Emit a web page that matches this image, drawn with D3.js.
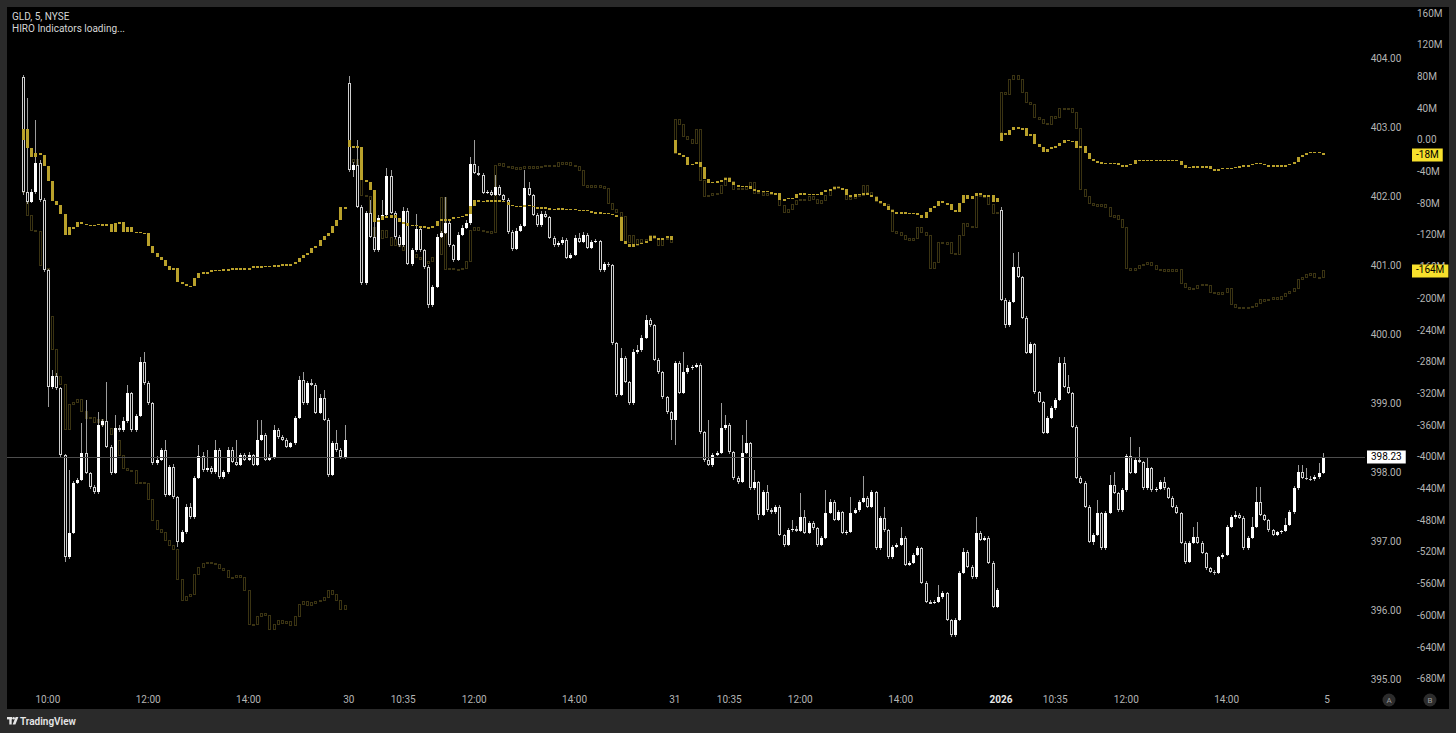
<!DOCTYPE html>
<html>
<head>
<meta charset="utf-8">
<script src="https://cdn.jsdelivr.net/npm/d3@7"></script>
<style>
  html, body { margin: 0; padding: 0; background: #2a2a2a; }
  svg { display: block; font-family: Roboto, "Liberation Sans", sans-serif; }
</style>
</head>
<body>
<script>
// GLD 5-minute candles, four sessions of 78 bars (09:30 - 15:55)
var sessionOpen = [403.74, 403.65, 398.77, 401.81];

var close1 = [402.07,401.93,402.07,402.49,401.96,400.94,399.25,399.41,399.23,398.26,
  396.78,397.13,397.86,397.90,398.29,398.00,397.80,397.72,398.70,398.75,
  398.38,398.00,398.65,398.62,398.75,399.16,398.62,398.83,399.61,399.30,
  399.01,398.14,398.19,398.33,397.68,398.09,397.65,397.00,397.14,397.51,
  397.36,397.93,398.25,398.04,398.07,398.01,398.33,397.94,398.01,398.33,
  398.16,398.12,398.26,398.19,398.26,398.12,398.48,398.55,398.19,398.22,
  398.62,398.52,398.48,398.38,398.43,398.80,399.35,399.01,399.30,399.28,
  398.87,399.09,398.77,397.97,398.43,398.33,398.23,398.48];
var close2 = [402.39,402.46,401.86,400.75,401.77,401.42,401.23,401.70,401.74,402.30,
  401.77,401.42,401.30,401.80,401.03,401.23,401.54,401.23,400.99,400.43,
  400.70,401.42,401.48,401.62,401.30,401.09,401.45,401.55,401.62,402.48,
  402.35,402.32,402.06,402.07,402.03,402.14,402.03,401.96,401.49,401.25,
  401.51,401.58,402.13,402.03,401.74,401.59,401.75,401.71,401.41,401.30,
  401.33,401.38,401.12,401.16,401.41,401.35,401.45,401.26,401.35,401.36,
  400.94,401.03,401.01,399.88,399.13,399.67,399.32,399.01,399.75,399.78,
  399.96,400.22,400.14,399.64,399.46,399.10,398.88,398.77];
var close3 = [399.59,399.16,399.46,399.52,399.54,399.57,398.59,398.19,398.12,398.26,
  398.29,398.65,398.70,398.30,397.93,397.87,398.29,398.43,397.78,397.87,
  397.39,397.72,397.46,397.43,397.51,397.10,396.96,397.17,397.19,397.16,
  397.36,397.13,397.28,397.20,396.96,397.06,397.42,397.58,397.32,397.43,
  397.13,397.15,397.42,397.46,397.58,397.64,397.51,397.72,396.91,397.35,
  397.17,396.78,396.93,396.96,397.06,396.67,396.70,396.81,396.91,396.41,
  396.13,396.12,396.13,396.20,396.26,395.87,395.65,395.87,396.55,396.86,
  396.64,396.49,397.13,397.03,397.06,396.70,396.06,396.30];
var close4 = [400.51,400.14,400.48,400.99,400.84,400.25,399.74,399.87,399.17,399.03,
  398.58,398.80,398.94,399.06,399.59,399.25,399.16,398.67,397.93,397.86,
  397.51,397.00,397.10,397.42,396.91,397.42,397.83,397.71,397.46,397.75,
  398.25,398.00,398.19,398.16,397.78,398.07,397.75,397.77,397.87,397.78,
  397.64,397.51,397.42,396.99,396.71,396.99,397.07,396.99,396.84,396.62,
  396.57,396.55,396.78,396.81,397.22,397.36,397.39,397.35,396.91,397.06,
  397.22,397.58,397.39,397.32,397.17,397.10,397.14,397.16,397.25,397.43,
  397.78,398.01,397.93,397.92,397.91,397.94,398.00,398.23];

// wick lengths beyond the body, in cents
var wickUp1 = [3,136,5,63,5,2,2,8,4,2, 2,91,3,3,43,77,2,2,18,3, 57,2,19,5,6,12,2,3,7,14,
  3,2,5,3,15,3,4,2,3,4, 5,3,16,5,26,3,15,3,3,5, 5,32,3,3,4,2,29,22,3,5,
  8,3,3,3,2,3,5,11,4,6, 3,6,11,2,3,19,3,22];
var wickDn1 = [4,3,2,2,3,3,29,3,2,3, 7,3,2,2,2,2,3,3,2,3, 2,3,2,2,2,2,3,2,2,2,
  2,3,2,2,3,2,2,7,2,2, 2,2,2,3,2,2,2,2,3,2, 2,2,2,2,2,2,2,2,2,2,
  2,2,2,2,2,2,2,2,2,2, 2,2,2,3,2,2,3,2];
var wickUp2 = [10,5,37,2,3,19,30,4,22,12, 9,2,3,6,4,3,21,2,2,2, 3,4,3,38,3,2,5,5,5,10,
  35,10,3,3,3,18,4,2,2,3, 4,3,26,9,2,3,4,5,2,3, 3,4,3,3,4,7,5,3,3,3,
  2,3,3,2,2,14,2,2,5,8, 4,7,3,2,3,2,2,2];
var wickDn2 = [3,10,2,3,2,2,2,2,3,2, 2,3,3,2,2,3,2,2,3,4, 2,2,2,2,2,3,2,2,2,2,
  2,2,2,2,2,2,2,2,3,3, 2,2,2,2,2,2,2,2,2,3, 2,2,2,2,2,2,2,2,2,2,
  3,2,3,3,3,2,2,3,2,2, 2,2,2,2,3,3,3,29];
var wickUp3 = [3,3,30,4,3,3,2,2,58,3, 3,36,14,2,2,2,26,34,2,17, 2,3,11,3,3,2,2,3,13,4,
  35,10,3,3,2,3,33,4,3,3, 2,3,23,3,3,32,3,3,2,3, 16,2,3,3,16,2,3,3,3,2,
  2,3,3,18,3,2,2,3,3,6, 2,2,23,3,3,2,2,4];
var wickDn3 = [36,2,2,2,2,2,2,3,2,4, 2,2,2,2,3,3,2,2,3,2, 7,2,2,2,2,2,3,2,2,2,
  2,2,2,2,3,2,2,2,2,2, 2,3,2,2,2,2,2,2,2,2, 2,2,2,2,2,2,2,2,2,2,
  2,2,2,2,2,2,3,2,2,2, 2,2,2,2,2,2,2,2];
var wickUp4 = [5,2,3,20,21,2,2,3,2,2, 2,3,3,3,9,9,17,2,2,3, 2,2,3,19,2,3,14,18,2,3,
  3,27,3,19,2,16,2,3,3,7, 2,2,2,2,2,3,15,22,2,2, 2,3,2,3,3,3,6,3,2,3,
  14,22,22,2,2,2,2,2,10,3, 3,11,11,14,3,3,14,6];
var wickDn4 = [2,4,2,2,2,2,2,2,2,2, 2,2,2,2,2,2,2,2,2,2, 2,2,5,2,2,2,2,2,2,2,
  2,2,2,2,2,2,2,2,2,2, 2,2,2,2,3,2,2,2,2,2, 2,3,2,2,2,2,2,2,2,2,
  2,2,2,2,2,2,2,2,2,2, 2,2,2,2,2,2,2,2];

// HIRO indicator values in millions (bright = first series, dim = second)
var hiroBrightOpen = [1, 1, 1, 0];
var hiroBright1 = [15,-9,-21,-16,-18,-32,-51,-76,-81,-92, -119,-109,-109,-103,-105,-106,-106,-106,-105,-108,
  -105,-115,-104,-103,-115,-109,-115,-115,-116,-116, -133,-142,-147,-151,-158,-163,-161,-178,-181,-183,
  -183,-173,-167,-166,-166,-163,-164,-163,-162,-163, -161,-161,-162,-161,-161,-158,-161,-158,-159,-158,
  -157,-158,-156,-156,-156,-153,-148,-144,-142,-135, -133,-125,-120,-116,-108,-100,-84,-84];
var hiroBright2 = [-8,-7,-8,-50,-52,-62,-103,-100,-95,-98, -94,-98,-103,-104,-108,-106,-108,-108,-109,-110,
  -108,-101,-99,-99,-99,-96,-96,-95,-92,-82, -75,-76,-76,-75,-76,-75,-76,-77,-81,-82,
  -82,-84,-81,-82,-84,-84,-84,-85,-86,-86, -85,-86,-87,-86,-87,-89,-87,-89,-90,-90,
  -91,-91,-92,-94,-96,-127,-130,-134,-130,-130, -129,-127,-120,-123,-125,-123,-120,-125];
var hiroBright3 = [-16,-18,-21,-31,-29,-27,-33,-48,-53,-52, -51,-50,-47,-52,-56,-58,-57,-57,-61,-62,
  -65,-63,-65,-66,-66,-75,-74,-72,-72,-67, -66,-67,-69,-67,-69,-65,-62,-61,-58,-60,
  -61,-69,-71,-67,-69,-66,-69,-71,-76,-79, -82,-87,-90,-91,-90,-91,-91,-91,-94,-98,
  -90,-85,-82,-76,-79,-80,-87,-90,-79,-69, -74,-70,-66,-69,-71,-69,-77,-72];
var hiroBright4 = [10,7,14,17,16,16,6,8,-4,-8, -14,-10,-8,-7,-3,1,0,0,-9,-7,
  -16,-23,-26,-27,-28,-28,-29,-28,-31,-33, -31,-29,-24,-24,-24,-24,-24,-26,-24,-24,
  -24,-24,-26,-31,-34,-33,-32,-34,-32,-32, -36,-37,-36,-34,-36,-34,-33,-32,-31,-31,
  -29,-28,-29,-31,-31,-31,-31,-31,-31,-29, -27,-21,-18,-16,-14,-14,-16,-18];

var hiroDimOpen = [-5, 3, -16, 10];
var hiroDim1 = [-65,-94,-113,-115,-157,-161,-222,-264,-298,-308, -365,-333,-330,-327,-342,-350,-349,-355,-352,-359,
  -363,-371,-378,-397,-413,-416,-416,-432,-431,-433, -453,-479,-491,-494,-504,-511,-516,-554,-580,-575,
  -573,-548,-538,-533,-532,-533,-535,-540,-542,-551, -551,-549,-551,-567,-610,-611,-601,-596,-599,-617,
  -610,-606,-609,-607,-612,-600,-585,-582,-586,-583, -582,-580,-577,-568,-572,-580,-592,-586];
var hiroDim2 = [-28,-24,-37,-69,-71,-110,-134,-123,-113,-122, -132,-125,-134,-138,-147,-144,-148,-149,-153,-153,
  -148,-144,-72,-163,-161,-163,-162,-161,-153,-113, -110,-113,-114,-115,-116,-31,-29,-32,-33,-34,
  -34,-34,-33,-34,-33,-33,-32,-31,-31,-32, -28,-29,-28,-31,-33,-37,-57,-57,-58,-57,
  -58,-60,-79,-87,-91,-96,-128,-120,-132,-125, -129,-125,-119,-123,-132,-125,-123,-129];
var hiroDim3 = [27,20,5,2,-3,14,-50,-71,-69,-67, -66,-56,-47,-52,-62,-60,-61,-58,-53,-66,
  -65,-69,-67,-66,-66,-82,-90,-87,-81,-75, -74,-75,-71,-74,-79,-75,-69,-61,-58,-60,
  -61,-74,-72,-71,-69,-56,-65,-71,-77,-79, -81,-87,-115,-116,-119,-125,-124,-124,-110,-116,
  -119,-161,-154,-128,-130,-129,-142,-143,-120,-105, -108,-110,-69,-71,-70,-80,-92,-90];
var hiroDim4 = [61,58,77,82,77,61,48,46,29,27, 22,20,30,29,41,41,41,36,16,-62,
  -71,-79,-82,-81,-81,-84,-96,-95,-99,-110, -161,-164,-161,-158,-156,-154,-157,-162,-163,-163,
  -163,-163,-163,-180,-185,-188,-186,-183,-181,-183, -191,-192,-192,-192,-187,-207,-210,-211,-210,-210,
  -209,-205,-201,-202,-200,-198,-201,-197,-193,-190, -186,-175,-172,-169,-168,-172,-172,-164];

// time axis
var tickLabels  = ["10:00","12:00","14:00","30","10:35","12:00","14:00","31","10:35","12:00","14:00","2026","10:35","12:00","14:00","5"];
var tickSession = [0,0,0,1,1,1,1,2,2,2,2,3,3,3,3,4];
var tickTime    = ["10:00","12:00","14:00","09:30","10:35","12:00","14:00","09:30","10:35","12:00","14:00","09:30","10:35","12:00","14:00","09:30"];
var priceTicks = [395, 396, 397, 398, 399, 400, 401, 402, 403, 404];
var hiroTicks = [160,120,80,40,0,-40,-80,-120,-160,-200,-240,-280,-320,-360,-400,-440,-480,-520,-560,-600,-640,-680];

var width = 1456, height = 733;
var barsPerSession = 78;
var chartRight = 1365;

var svg = d3.select('body').append('svg')
  .attr('width', width)
  .attr('height', height);

svg.append('rect').attr('width', width).attr('height', height).attr('fill', '#2a2a2a');
svg.append('rect').attr('x', 7).attr('y', 7).attr('width', 1442).attr('height', 702).attr('fill', '#000');

function flat(arrs) { return [].concat.apply([], arrs); }

var closes = flat([close1, close2, close3, close4]);
var wickUp = flat([wickUp1, wickUp2, wickUp3, wickUp4]);
var wickDn = flat([wickDn1, wickDn2, wickDn3, wickDn4]);

var candles = closes.map(function(c, i) {
  var s = Math.floor(i / barsPerSession), k = i % barsPerSession;
  var o = k === 0 ? sessionOpen[s] : closes[i - 1];
  return {
    i: i, open: o, close: c,
    high: Math.max(o, c) + wickUp[i] / 100,
    low: Math.min(o, c) - wickDn[i] / 100
  };
});

function hiroSeries(days, opens) {
  var all = flat(days);
  return all.map(function(v, i) {
    var s = Math.floor(i / barsPerSession), k = i % barsPerSession;
    return { i: i, open: k === 0 ? opens[s] : all[i - 1], close: v };
  });
}
var hiroBright = hiroSeries([hiroBright1, hiroBright2, hiroBright3, hiroBright4], hiroBrightOpen);
var hiroDim = hiroSeries([hiroDim1, hiroDim2, hiroDim3, hiroDim4], hiroDimOpen);

// scales
var nBars = barsPerSession * 4;
var xScale = d3.scaleLinear().domain([0, nBars]).range([22.8, 22.8 + nBars * 4.18]);
var yPrice = d3.scaleLinear().domain([395, 404]).range([680, 59]);
var yHiro = d3.scaleLinear().domain([-680, 160]).range([679.6, 13.9]);

function cx(i) { return Math.round(xScale(i)); }

// dim HIRO (behind)
svg.append('g').attr('shape-rendering', 'crispEdges')
  .selectAll('rect').data(hiroDim).enter().append('rect')
  .each(function(d) {
    var a = yHiro(d.open), b = yHiro(d.close);
    var top = Math.min(a, b), h = Math.max(Math.abs(a - b), 1.5);
    d3.select(this)
      .attr('x', cx(d.i) - 0.5).attr('y', top)
      .attr('width', 2).attr('height', h)
      .attr('fill', 'none')
      .attr('stroke', '#3a3312')
      .attr('stroke-width', 1);
  });

// price candles
var candleG = svg.append('g').attr('shape-rendering', 'crispEdges');
candleG.selectAll('line').data(candles).enter().append('line')
  .attr('x1', function(d) { return cx(d.i) + 0.5; })
  .attr('x2', function(d) { return cx(d.i) + 0.5; })
  .attr('y1', function(d) { return yPrice(d.high); })
  .attr('y2', function(d) { return yPrice(d.low); })
  .attr('stroke', '#9c9c9c')
  .attr('stroke-width', 1);

candleG.selectAll('rect').data(candles).enter().append('rect')
  .each(function(d) {
    var top = yPrice(Math.max(d.open, d.close));
    var h = Math.max(yPrice(Math.min(d.open, d.close)) - top, 1);
    var sel = d3.select(this);
    if (d.close >= d.open) {
      sel.attr('x', cx(d.i) - 1).attr('y', top)
        .attr('width', 3).attr('height', h)
        .attr('fill', '#ffffff');
    } else {
      sel.attr('x', cx(d.i) - 0.5).attr('y', top + 0.5)
        .attr('width', 2).attr('height', Math.max(h - 1, 0.5))
        .attr('fill', '#000')
        .attr('stroke', '#cfcfcf')
        .attr('stroke-width', 1);
    }
  });

// bright HIRO (front)
svg.append('g').attr('shape-rendering', 'crispEdges')
  .selectAll('rect').data(hiroBright).enter().append('rect')
  .each(function(d) {
    var a = yHiro(d.open), b = yHiro(d.close);
    var top = Math.min(a, b), h = Math.max(Math.abs(a - b), 1.5);
    d3.select(this)
      .attr('x', cx(d.i) - 1).attr('y', top)
      .attr('width', 3).attr('height', h)
      .attr('fill', '#b9a12b');
  });

// last price line
var lastClose = closes[closes.length - 1];
svg.append('line')
  .attr('x1', 7).attr('x2', chartRight)
  .attr('y1', Math.round(yPrice(lastClose)) + 0.5)
  .attr('y2', Math.round(yPrice(lastClose)) + 0.5)
  .attr('stroke', '#4d4d4d').attr('stroke-width', 1);

// price axis
var axisText = '#b4b4b4';
svg.append('g').selectAll('text').data(priceTicks).enter().append('text')
  .attr('x', 1386).attr('y', function(d) { return yPrice(d); })
  .attr('text-anchor', 'middle').attr('dominant-baseline', 'middle')
  .attr('font-size', 10).attr('fill', axisText)
  .text(function(d) { return d3.format('.2f')(d); });

// HIRO axis
svg.append('g').selectAll('text').data(hiroTicks).enter().append('text')
  .attr('x', 1417).attr('y', function(d) { return yHiro(d); })
  .attr('dominant-baseline', 'middle')
  .attr('font-size', 10).attr('fill', axisText)
  .text(function(d) { return d === 0 ? '0.00' : d + 'M'; });

// value labels
function valueLabel(x, y, txt, bg, pad) {
  var g = svg.append('g');
  var t = g.append('text').attr('x', x + pad).attr('y', y)
    .attr('dominant-baseline', 'middle').attr('font-size', 10)
    .attr('fill', '#000').text(txt);
  var w = t.node().getComputedTextLength();
  g.insert('rect', 'text').attr('x', x).attr('y', Math.round(y) - 6.5)
    .attr('width', w + pad * 2).attr('height', 13).attr('fill', bg);
}
valueLabel(1367, yPrice(lastClose), d3.format('.2f')(lastClose), '#ffffff', 4);
var lastBright = hiroBright[hiroBright.length - 1].close;
var lastDim = hiroDim[hiroDim.length - 1].close;
valueLabel(1412, yHiro(lastBright), lastBright + 'M', '#f7e02c', 4);
valueLabel(1412, yHiro(lastDim), lastDim + 'M', '#f7e02c', 4);

// time axis
var ticks = tickLabels.map(function(lbl, j) {
  var hm = tickTime[j].split(':');
  var mins = (+hm[0]) * 60 + (+hm[1]) - 570;
  return { label: lbl, bar: tickSession[j] * barsPerSession + mins / 5 };
});
svg.append('g').selectAll('text').data(ticks).enter().append('text')
  .attr('x', function(d) { return xScale(d.bar); })
  .attr('y', 700)
  .attr('text-anchor', 'middle').attr('dominant-baseline', 'middle')
  .attr('font-size', 10)
  .attr('font-weight', function(d) { return d.label === '2026' ? 'bold' : 'normal'; })
  .attr('fill', function(d) { return d.label === '2026' ? '#e8e8e8' : axisText; })
  .text(function(d) { return d.label; });

// scale buttons
[['A', 1389], ['B', 1430]].forEach(function(b) {
  svg.append('circle').attr('cx', b[1]).attr('cy', 700).attr('r', 6.5).attr('fill', '#2c2c2c');
  svg.append('text').attr('x', b[1]).attr('y', 700.5)
    .attr('text-anchor', 'middle').attr('dominant-baseline', 'middle')
    .attr('font-size', 8).attr('fill', '#9a9a9a').text(b[0]);
});

// legend
svg.append('text').attr('x', 12).attr('y', 20).attr('font-size', 10).attr('fill', '#d6d6d6').text('GLD, 5, NYSE');
svg.append('text').attr('x', 12).attr('y', 32).attr('font-size', 10).attr('fill', '#d6d6d6').text('HIRO Indicators loading...');

// footer logo
var logo = svg.append('g').attr('fill', '#e6e6e6');
logo.append('rect').attr('x', 7).attr('y', 717).attr('width', 5).attr('height', 2.4);
logo.append('rect').attr('x', 9.3).attr('y', 717).attr('width', 2.4).attr('height', 7.5);
logo.append('circle').attr('cx', 13.6).attr('cy', 718.3).attr('r', 1.3);
logo.append('path').attr('d', 'M15.6,717 L18.4,717 L15.4,724.5 L12.6,724.5 Z');
svg.append('text').attr('x', 20).attr('y', 724.5).attr('font-size', 10).attr('font-weight', 600)
  .attr('fill', '#e6e6e6').text('TradingView');
</script>
</body>
</html>
